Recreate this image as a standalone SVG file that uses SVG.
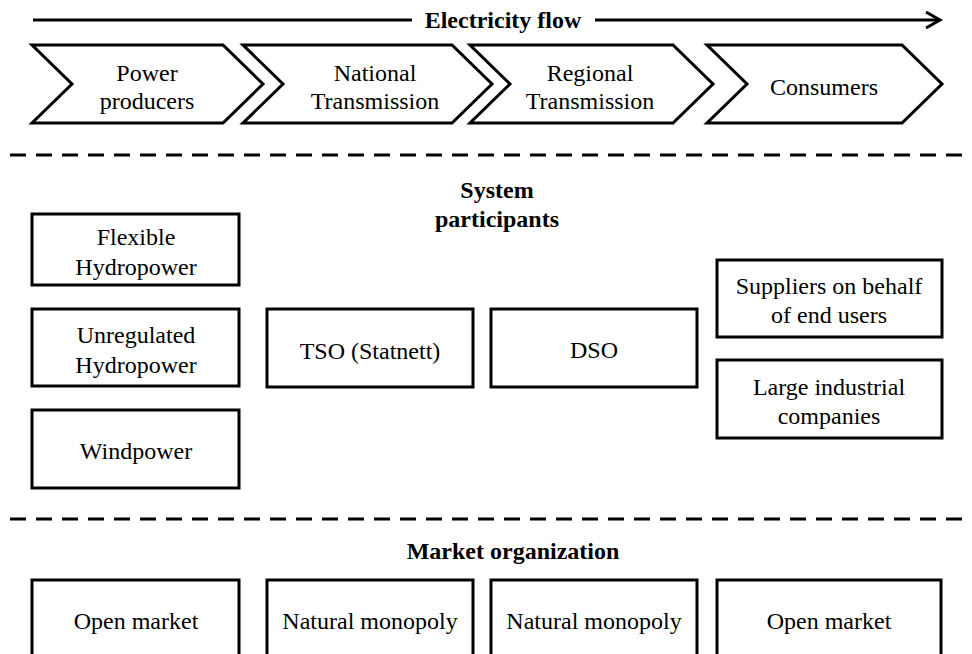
<svg xmlns="http://www.w3.org/2000/svg" width="972" height="654" viewBox="0 0 972 654">
<style>
text{font-family:"Liberation Serif","Times New Roman",serif;font-size:24px;fill:#000;text-anchor:middle}
.b{font-weight:bold}
.box{fill:#fff;stroke:#000;stroke-width:3}
.chev{fill:#fff;stroke:#000;stroke-width:3;stroke-linejoin:miter}
.dash{stroke:#000;stroke-width:3;stroke-dasharray:16 10;fill:none}
.ln{stroke:#000;stroke-width:3;fill:none}
</style>
<rect width="972" height="654" fill="#fff"/>
<g id="connectors">
<line class="ln" x1="33" y1="20" x2="412" y2="20"/>
<line class="ln" x1="595" y1="20" x2="939" y2="20"/>
<polyline class="ln" points="926,12 940,20 926,28"/>
<line class="dash" x1="10" y1="155" x2="972" y2="155"/>
<line class="dash" x1="10" y1="519" x2="972" y2="519"/>
</g>
<text class="b" x="503" y="28">Electricity flow</text>
<g id="chev1"><polygon class="chev" points="32,45 223,45 263,84 223,123 32,123 72,84"/><text x="147" y="81">Power</text><text x="147" y="109">producers</text></g>
<g id="chev2"><polygon class="chev" points="243,45 452,45 492,84 452,123 243,123 283,84"/><text x="375" y="81">National</text><text x="375" y="109">Transmission</text></g>
<g id="chev3"><polygon class="chev" points="470,45 673,45 713,84 673,123 470,123 510,84"/><text x="590" y="81">Regional</text><text x="590" y="109">Transmission</text></g>
<g id="chev4"><polygon class="chev" points="707,45 902,45 942,84 902,123 707,123 747,84"/><text x="824" y="95">Consumers</text></g>
<text class="b" x="497" y="198">System</text>
<text class="b" x="497" y="227">participants</text>
<g id="flexible"><rect class="box" x="32" y="214" width="207" height="71"/><text x="136" y="245">Flexible</text><text x="136" y="275">Hydropower</text></g>
<g id="unregulated"><rect class="box" x="32" y="309" width="207" height="77"/><text x="136" y="343">Unregulated</text><text x="136" y="373">Hydropower</text></g>
<g id="windpower"><rect class="box" x="32" y="410" width="207" height="78"/><text x="136" y="459">Windpower</text></g>
<g id="tso"><rect class="box" x="267" y="309" width="206" height="78"/><text x="370" y="359">TSO (Statnett)</text></g>
<g id="dso"><rect class="box" x="491" y="309" width="206" height="78"/><text x="594" y="358">DSO</text></g>
<g id="suppliers"><rect class="box" x="717" y="260" width="225" height="77"/><text x="829" y="294">Suppliers on behalf</text><text x="829" y="323">of end users</text></g>
<g id="industrial"><rect class="box" x="717" y="360" width="225" height="78"/><text x="829" y="395">Large industrial</text><text x="829" y="424">companies</text></g>
<text class="b" x="513" y="559">Market organization</text>
<g id="m1"><rect class="box" x="32" y="580" width="207" height="90"/><text x="136" y="629">Open market</text></g>
<g id="m2"><rect class="box" x="267" y="580" width="206" height="90"/><text x="370" y="629">Natural monopoly</text></g>
<g id="m3"><rect class="box" x="491" y="580" width="206" height="90"/><text x="594" y="629">Natural monopoly</text></g>
<g id="m4"><rect class="box" x="717" y="580" width="224" height="90"/><text x="829" y="629">Open market</text></g>
</svg>
